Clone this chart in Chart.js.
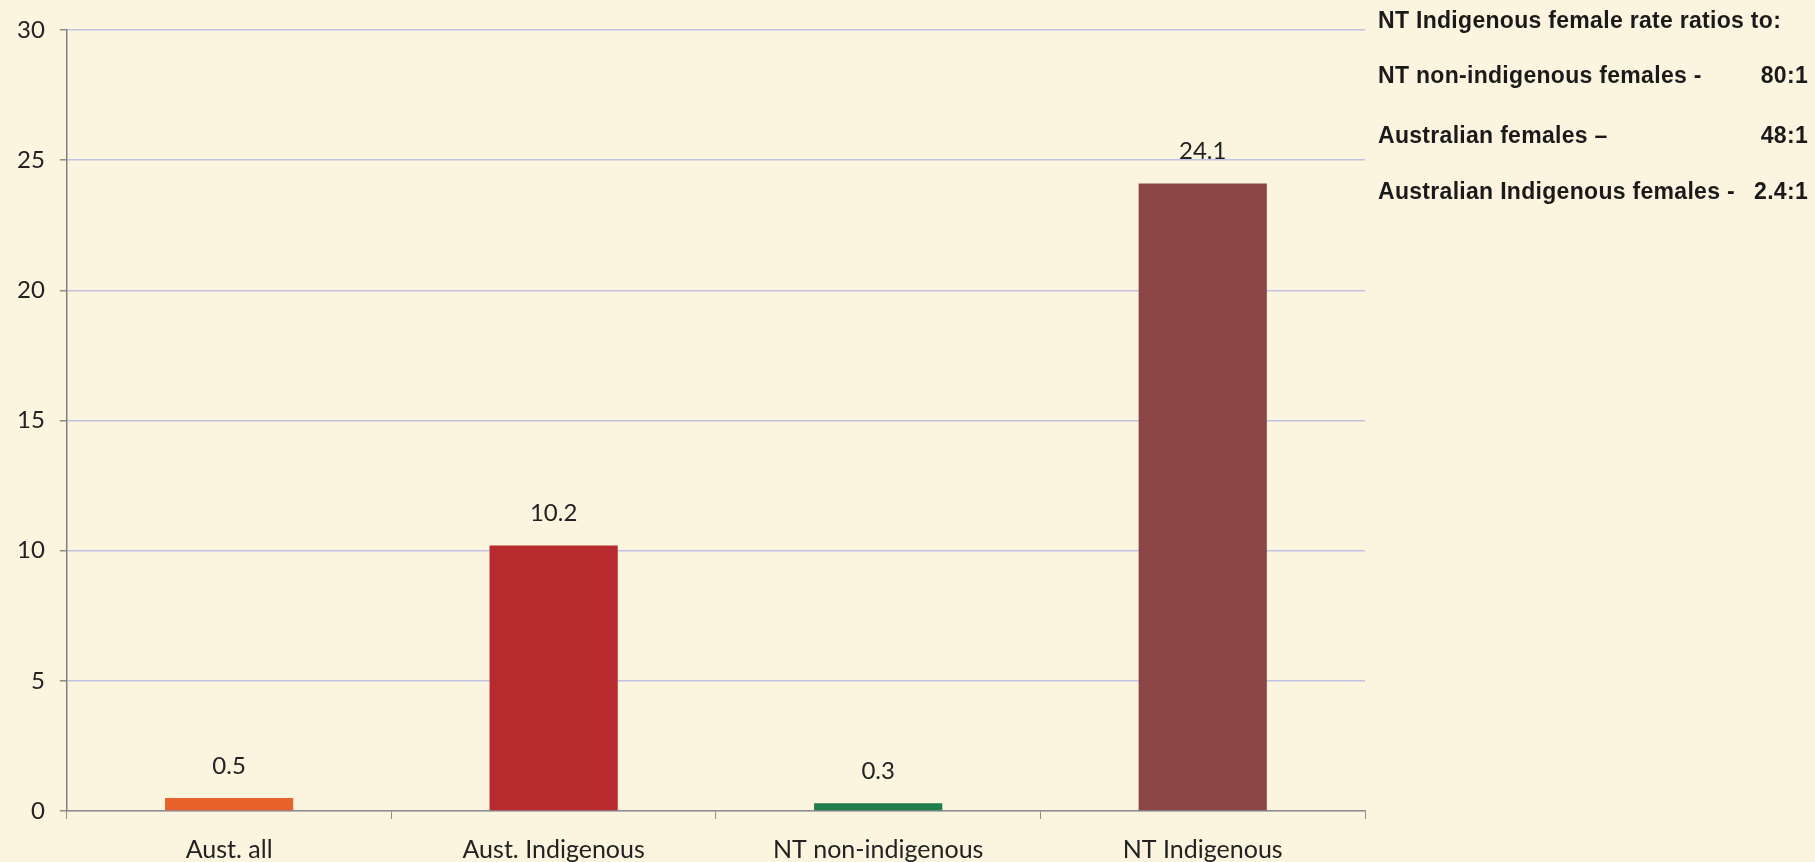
<!DOCTYPE html>
<html>
<head>
<meta charset="utf-8">
<script src="https://cdn.jsdelivr.net/npm/chart.js@4"></script>
<style>
	html, body { margin: 0; padding: 0; background: #fbf4df; }
	#wrap { position: relative; width: 1815px; height: 862px; overflow: hidden; }
	#chart { position: absolute; left: 0; top: 0; }
	.note { position: absolute; left: 1378px; width: 430px; font-family: "Liberation Sans", Arial, sans-serif;
		font-weight: bold; font-size: 23px; line-height: 24px; letter-spacing: 0.3px; color: #1a1a1a;
		display: flex; justify-content: space-between; white-space: nowrap; }
</style>
</head>
<body>
<div id="wrap">
	<canvas id="chart" width="1815" height="881"></canvas>
	<div class="note" style="top:8px">NT Indigenous female rate ratios to:</div>
	<div class="note" style="top:63px"><span>NT non-indigenous females -</span><span>80:1</span></div>
	<div class="note" style="top:123px"><span>Australian females –</span><span>48:1</span></div>
	<div class="note" style="top:179px"><span>Australian Indigenous females -</span><span>2.4:1</span></div>
</div>
<script>
// data
const categories = ["Aust. all", "Aust. Indigenous", "NT non-indigenous", "NT Indigenous"];
const rates = [0.5, 10.2, 0.3, 24.1];
const barColors = ["#e8622c", "#b72a2e", "#1f7d4e", "#8c4646"];
const yTicks = [0, 5, 10, 15, 20, 25, 30];

// value labels above the bars
const valueLabels = {
	id: "valueLabels",
	afterDatasetsDraw(chart) {
		const ctx = chart.ctx;
		const meta = chart.getDatasetMeta(0);
		ctx.save();
		ctx.font = "24px Lato, 'Open Sans', sans-serif";
		ctx.fillStyle = "#222";
		ctx.textAlign = "center";
		ctx.textBaseline = "bottom";
		meta.data.forEach(function (bar, i) {
			ctx.fillText(String(rates[i]), bar.x, bar.y - 20);
		});
		ctx.restore();
	}
};

Chart.defaults.font.family = "Lato, 'Open Sans', sans-serif";

new Chart(document.getElementById("chart"), {
	type: "bar",
	data: {
		labels: categories,
		datasets: [{
			data: rates,
			backgroundColor: barColors,
			categoryPercentage: 1,
			barPercentage: 0.395,
		}]
	},
	options: {
		responsive: false,
		animation: false,
		layout: { padding: { left: 2, right: 450, top: 30, bottom: 0 } },
		plugins: {
			legend: { display: false },
			tooltip: { enabled: false },
		},
		scales: {
			x: {
				grid: { display: true, drawOnChartArea: false, tickLength: 8, color: "#8d8d8d", offset: true },
				border: { color: "#8d8d8d", width: 1.5 },
				ticks: { color: "#222", font: { size: 25 }, padding: 16 },
			},
			y: {
				min: 0,
				max: 30,
				afterBuildTicks: function (axis) { axis.ticks = yTicks.map(v => ({ value: v })); },
				grid: { color: "rgba(175,177,232,0.75)", lineWidth: 1.5, tickColor: "#8d8d8d", tickLength: 7 },
				border: { color: "#808080", width: 1.5 },
				ticks: { color: "#222", font: { size: 24 }, padding: 15 },
			}
		}
	},
	plugins: [valueLabels]
});
</script>
</body>
</html>
